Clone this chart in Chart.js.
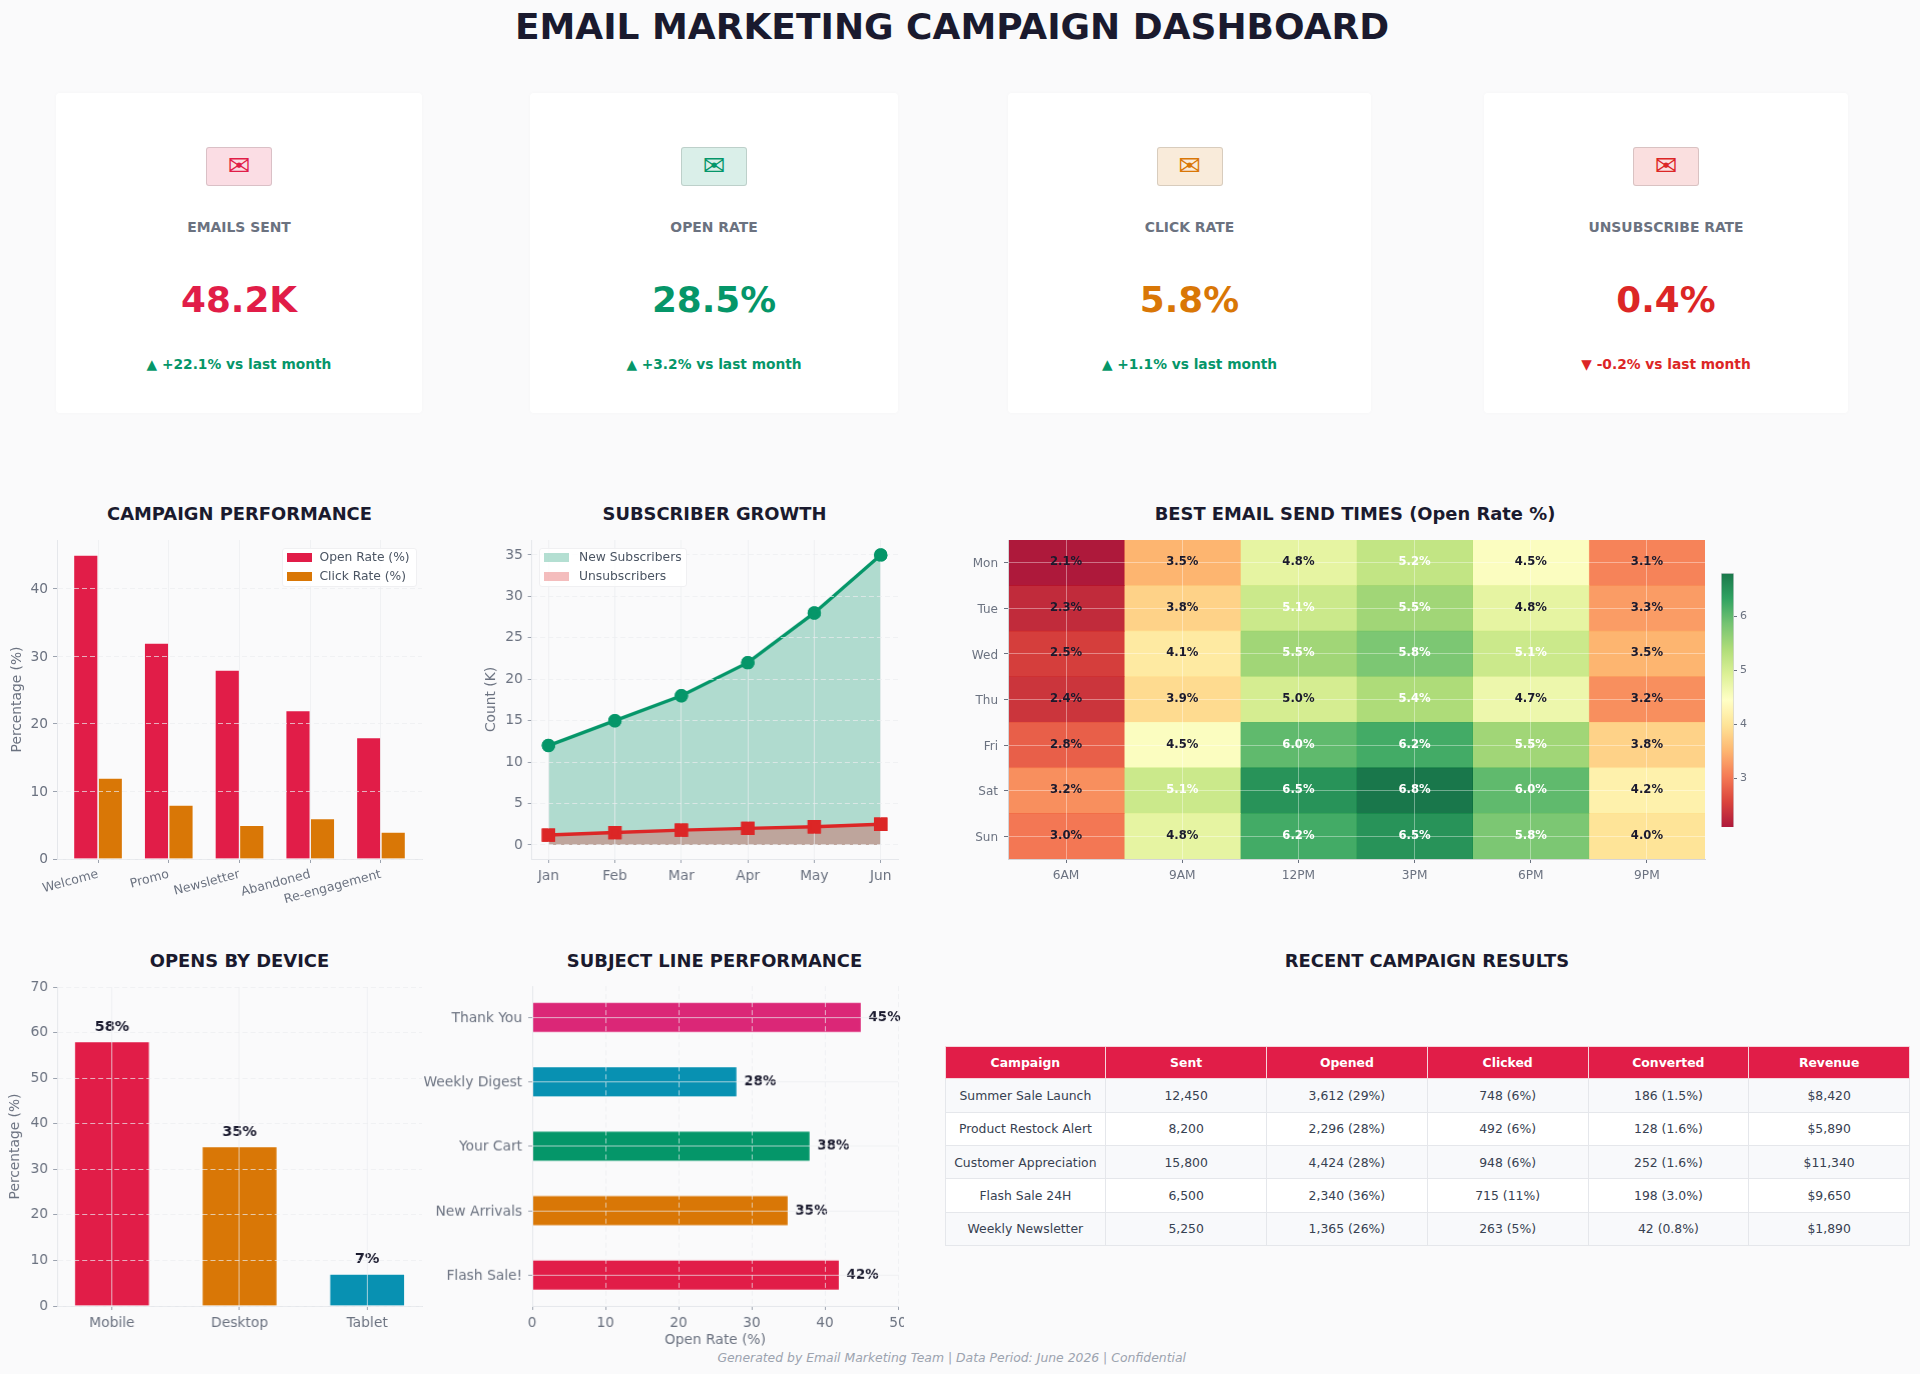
<!DOCTYPE html>
<html>
<head>
<meta charset="utf-8">
<title>Email Marketing Campaign Dashboard</title>
<script src="https://cdn.jsdelivr.net/npm/chart.js@4/dist/chart.umd.min.js"></script>
<style>
  html, body { margin: 0; padding: 0; background: #fafafb; }
  body { position: relative; width: 1920px; height: 1374px; overflow: hidden; font-family: "DejaVu Sans", sans-serif; }
  canvas { position: absolute; }
  .txt { position: absolute; transform: translate(-50%, -50%); white-space: nowrap; }
  .main-title { font-size: 36px; font-weight: bold; color: #1a1a2e; }
  .section-title { font-size: 17.9px; font-weight: bold; color: #1a1a2e; }
  .card { position: absolute; top: 93px; height: 320px; background: #fff; border-radius: 4px; box-shadow: 0 0 5px rgba(0,0,0,.025); }
  .icon { position: absolute; left: 206px; top: 147px; width: 66px; height: 39px; box-sizing: border-box; border: 1px solid rgba(0,0,0,.13); border-radius: 3px; text-align: center; font-size: 27px; line-height: 35px; }
  .card-label { font-size: 13.9px; font-weight: bold; color: #6b7280; }
  .card-value { font-size: 35.8px; font-weight: bold; }
  .card-change { font-size: 13.75px; font-weight: bold; }
  .legend { position: absolute; box-sizing: border-box; height: 39px; background: rgba(255,255,255,.85); border: 1px solid #f0f0f2; border-radius: 3px; font-size: 12.3px; color: #4b5563; }
  .legend i { position: absolute; width: 25px; height: 9px; }
  .legend span { position: absolute; line-height: 14px; white-space: nowrap; }
  table { position: absolute; left: 944.5px; top: 1046px; width: 965.5px; height: 200px; border-collapse: collapse; table-layout: fixed; font-size: 12.4px; color: #374151; }
  th { background: #e11d48; color: #fff; font-weight: bold; border: 1px solid #f5d5dc; height: 31px; padding: 0; }
  td { border: 1px solid #e5e7eb; text-align: center; padding: 0; height: 32px; }
  tr.alt td { background: #f8f9fb; }
  tr.plain td { background: #fff; }
  .footer { font-size: 12.4px; font-style: italic; color: #9ca3af; }
</style>
</head>
<body>
<script>
// palette
const crimson = "#E11D48";
const orange = "#D97706";
const green = "#059669";
const teal = "#0891B2";
const pink = "#DB2777";
const red = "#DC2626";
const ink = "#1A1A2E";
const gray = "#6B7280";

// kpi cards
const cardLabels = ["EMAILS SENT", "OPEN RATE", "CLICK RATE", "UNSUBSCRIBE RATE"];
const cardValues = ["48.2K", "28.5%", "5.8%", "0.4%"];
const cardChanges = ["▲ +22.1% vs last month", "▲ +3.2% vs last month", "▲ +1.1% vs last month", "▼ -0.2% vs last month"];

// campaign performance
const campaignNames = ["Welcome", "Promo", "Newsletter", "Abandoned", "Re-engagement"];
const openRates = [45, 32, 28, 22, 18];
const clickRates = [12, 8, 5, 6, 4];

// subscriber growth
const months = ["Jan", "Feb", "Mar", "Apr", "May", "Jun"];
const newSubscribers = [12, 15, 18, 22, 28, 35];
const unsubscribers = [1.2, 1.5, 1.8, 2.0, 2.2, 2.5];

// send times heatmap, one row per day
const days = ["Mon", "Tue", "Wed", "Thu", "Fri", "Sat", "Sun"];
const hours = ["6AM", "9AM", "12PM", "3PM", "6PM", "9PM"];
const sendRates = [
  [2.1, 3.5, 4.8, 5.2, 4.5, 3.1],
  [2.3, 3.8, 5.1, 5.5, 4.8, 3.3],
  [2.5, 4.1, 5.5, 5.8, 5.1, 3.5],
  [2.4, 3.9, 5.0, 5.4, 4.7, 3.2],
  [2.8, 4.5, 6.0, 6.2, 5.5, 3.8],
  [3.2, 5.1, 6.5, 6.8, 6.0, 4.2],
  [3.0, 4.8, 6.2, 6.5, 5.8, 4.0],
];
const colorbarTicks = [3, 4, 5, 6];
const rateMin = 2.1;
const rateMax = 6.8;

// devices
const devices = ["Mobile", "Desktop", "Tablet"];
const deviceShares = [58, 35, 7];

// subject lines, bottom to top
const subjects = ["Flash Sale!", "New Arrivals", "Your Cart", "Weekly Digest", "Thank You"];
const subjectRates = [42, 35, 38, 28, 45];

// results table
const tableHead = ["Campaign", "Sent", "Opened", "Clicked", "Converted", "Revenue"];
const tableRows = [
  ["Summer Sale Launch", "12,450", "3,612 (29%)", "748 (6%)", "186 (1.5%)", "$8,420"],
  ["Product Restock Alert", "8,200", "2,296 (28%)", "492 (6%)", "128 (1.6%)", "$5,890"],
  ["Customer Appreciation", "15,800", "4,424 (28%)", "948 (6%)", "252 (1.6%)", "$11,340"],
  ["Flash Sale 24H", "6,500", "2,340 (36%)", "715 (11%)", "198 (3.0%)", "$9,650"],
  ["Weekly Newsletter", "5,250", "1,365 (26%)", "263 (5%)", "42 (0.8%)", "$1,890"],
];

Chart.defaults.font.family = '"DejaVu Sans", sans-serif';
Chart.defaults.animation = false;
Chart.defaults.devicePixelRatio = 1;
Chart.defaults.plugins.legend.display = false;
Chart.defaults.plugins.tooltip.enabled = false;

const gridLight = "rgba(235,236,240,.7)";
const gridOnCells = "rgba(255,255,255,.38)";
const tickFont = { size: 13.8 };
const titleFont = { size: 13.8 };

function addText(cls, text, x, y, color) {
  const el = document.createElement("div");
  el.className = "txt " + cls;
  el.textContent = text;
  el.style.left = x + "px";
  el.style.top = y + "px";
  if (color) el.style.color = color;
  document.body.appendChild(el);
  return el;
}

// plot = the inner chart area in page pixels, pad = room around it for the axes
function addCanvas(plot, pad) {
  const c = document.createElement("canvas");
  const w = plot.right - plot.left + pad.left + pad.right;
  const h = plot.bottom - plot.top + pad.top + pad.bottom;
  c.width = w;
  c.height = h;
  c.style.left = plot.left - pad.left + "px";
  c.style.top = plot.top - pad.top + "px";
  c.style.width = w + "px";
  c.style.height = h + "px";
  document.body.appendChild(c);
  return c;
}

function layoutOf(pad) {
  return { autoPadding: false, padding: { top: pad.top, right: pad.right, left: 0, bottom: 0 } };
}

// fixed axis size and no label margins, so the chart area lands where the plot says
function axisBase(size, extra) {
  return Object.assign({
    offset: false,
    afterFit: function (axis) {
      if (axis.isHorizontal()) axis.height = size;
      else axis.width = size;
      axis.paddingTop = axis.paddingBottom = axis.paddingLeft = axis.paddingRight = 0;
    },
    grid: { z: 1, offset: false, color: gridLight, tickColor: "#9ca3af", tickLength: 4 },
    border: { z: 1, color: "#e5e7eb" },
  }, extra);
}

function fixedTicks(values) {
  return function (axis) {
    axis.ticks = values.map(function (v) { return { value: v }; });
  };
}

function addLegend(left, width, items) {
  const box = document.createElement("div");
  box.className = "legend";
  box.style.left = left + "px";
  box.style.top = "548px";
  box.style.width = width + "px";
  items.forEach(function (item, i) {
    const sw = document.createElement("i");
    sw.style.left = "4px";
    sw.style.top = 4 + i * 19 + "px";
    sw.style.background = item.color;
    const label = document.createElement("span");
    label.style.left = item.textLeft + "px";
    label.style.top = 1 + i * 19 + "px";
    label.textContent = item.text;
    box.appendChild(sw);
    box.appendChild(label);
  });
  document.body.appendChild(box);
}

// matplotlib RdYlGn
const rdYlGn = ["#a50026", "#d73027", "#f46d43", "#fdae61", "#fee08b", "#ffffbf", "#d9ef8b", "#a6d96a", "#66bd63", "#1a9850", "#006837"];

function heatColor(v) {
  const t = Math.min(Math.max((v - rateMin) / (rateMax - rateMin), 0), 1) * (rdYlGn.length - 1);
  const i = Math.min(Math.floor(t), rdYlGn.length - 2);
  const f = t - i;
  const a = parseInt(rdYlGn[i].slice(1), 16);
  const b = parseInt(rdYlGn[i + 1].slice(1), 16);
  const mix = function (s) {
    return Math.round(((a >> s) & 255) * (1 - f) + ((b >> s) & 255) * f);
  };
  return "rgba(" + mix(16) + "," + mix(8) + "," + mix(0) + ",.9)";
}

// value labels written next to the bars
function barLabels(fontSize, place) {
  return {
    id: "barLabels",
    afterDatasetsDraw: function (chart) {
      const ctx = chart.ctx;
      const meta = chart.getDatasetMeta(0);
      ctx.save();
      ctx.font = "bold " + fontSize + 'px "DejaVu Sans"';
      ctx.fillStyle = ink;
      meta.data.forEach(function (bar, i) {
        place(ctx, bar, chart.data.datasets[0].values[i] + "%");
      });
      ctx.restore();
    },
  };
}

/* ---------- header and cards ---------- */
addText("main-title", "EMAIL MARKETING CAMPAIGN DASHBOARD", 952, 25.5);

const cardBoxes = [[56, 366], [530, 368], [1008, 363], [1484, 364]];
const cardColors = [crimson, green, orange, red];
const iconBacks = ["rgba(225,29,72,.15)", "rgba(5,150,105,.15)", "rgba(217,119,6,.15)", "rgba(220,38,38,.15)"];

cardLabels.forEach(function (label, i) {
  const box = cardBoxes[i];
  const center = box[0] + box[1] / 2;
  const card = document.createElement("div");
  card.className = "card";
  card.style.left = box[0] + "px";
  card.style.width = box[1] + "px";
  document.body.appendChild(card);

  const icon = document.createElement("div");
  icon.className = "icon";
  icon.textContent = "✉";
  icon.style.left = center - 33 + "px";
  icon.style.color = cardColors[i];
  icon.style.background = iconBacks[i];
  document.body.appendChild(icon);

  addText("card-label", label, center, 227);
  addText("card-value", cardValues[i], center, 298.5, cardColors[i]);
  addText("card-change", cardChanges[i], center, 364, i === 3 ? red : green);
});

/* ---------- section titles ---------- */
addText("section-title", "CAMPAIGN PERFORMANCE", 239.5, 512.5);
addText("section-title", "SUBSCRIBER GROWTH", 714.5, 512.5);
addText("section-title", "BEST EMAIL SEND TIMES (Open Rate %)", 1355, 512.5);
addText("section-title", "OPENS BY DEVICE", 239.5, 959.5);
addText("section-title", "SUBJECT LINE PERFORMANCE", 714.5, 959.5);
addText("section-title", "RECENT CAMPAIGN RESULTS", 1427, 959.5);

/* ---------- campaign performance ---------- */
const perfPlot = { left: 57, right: 422, top: 540, bottom: 859 };
const perfPad = { left: 48, right: 6, top: 4, bottom: 58 };
new Chart(addCanvas(perfPlot, perfPad), {
  type: "bar",
  data: {
    datasets: [
      { label: "Open Rate (%)", data: openRates.map((v, i) => ({ x: i, y: v })), backgroundColor: crimson, borderColor: "rgba(255,255,255,.35)", borderWidth: 1, barThickness: 24.5 },
      { label: "Click Rate (%)", data: clickRates.map((v, i) => ({ x: i, y: v })), backgroundColor: orange, borderColor: "rgba(255,255,255,.35)", borderWidth: 1, barThickness: 24.5 },
    ],
  },
  options: {
    responsive: false,
    layout: layoutOf(perfPad),
    scales: {
      x: axisBase(perfPad.bottom, {
        type: "linear", min: -0.58, max: 4.58,
        afterBuildTicks: fixedTicks(campaignNames.map((n, i) => i)),
        ticks: { color: gray, font: { size: 12.5 }, autoSkip: false, minRotation: 15, maxRotation: 15, padding: 4, callback: (v) => campaignNames[v] },
      }),
      y: axisBase(perfPad.left, {
        min: 0, max: 47.25,
        afterBuildTicks: fixedTicks([0, 10, 20, 30, 40]),
        title: { display: true, text: "Percentage (%)", color: gray, font: titleFont, padding: 0 },
        border: { z: 1, color: "#e5e7eb", dash: [5, 3] },
        ticks: { color: gray, font: tickFont, padding: 5, labelOffset: 0.5 },
      }),
    },
  },
});
addLegend(281.5, 135, [
  { color: crimson, text: "Open Rate (%)", textLeft: 37 },
  { color: orange, text: "Click Rate (%)", textLeft: 37 },
]);

/* ---------- subscriber growth ---------- */
const growthPlot = { left: 531.7, right: 898, top: 540, bottom: 859 };
const growthPad = { left: 48.7, right: 6, top: 4, bottom: 36 };
new Chart(addCanvas(growthPlot, growthPad), {
  type: "line",
  data: {
    datasets: [
      { label: "New Subscribers", data: newSubscribers.map((v, i) => ({ x: i, y: v })), order: 2, borderColor: green, backgroundColor: "rgba(5,150,105,.3)", fill: "origin", borderWidth: 3.4, tension: 0, pointRadius: 5, pointBackgroundColor: green, pointBorderColor: green, clip: false },
      { label: "Unsubscribers", data: unsubscribers.map((v, i) => ({ x: i, y: v })), order: 1, borderColor: red, backgroundColor: "rgba(220,38,38,.3)", fill: "origin", borderWidth: 3.4, tension: 0, pointStyle: "rect", pointRadius: 7, pointBackgroundColor: red, pointBorderColor: red, clip: false },
    ],
  },
  options: {
    responsive: false,
    layout: layoutOf(growthPad),
    scales: {
      x: axisBase(growthPad.bottom, {
        type: "linear", min: -0.25, max: 5.26,
        afterBuildTicks: fixedTicks(months.map((m, i) => i)),
        ticks: { color: gray, font: tickFont, padding: 5, autoSkip: false, maxRotation: 0, callback: (v) => months[v] },
      }),
      y: axisBase(growthPad.left, {
        min: -1.69, max: 36.8,
        afterBuildTicks: fixedTicks([0, 5, 10, 15, 20, 25, 30, 35]),
        title: { display: true, text: "Count (K)", color: gray, font: titleFont, padding: 0 },
        border: { z: 1, color: "#e5e7eb", dash: [5, 3] },
        ticks: { color: gray, font: tickFont, padding: 5 },
      }),
    },
  },
  plugins: [{
    // the grid sits over the fills, the markers stay solid on top of it
    id: "pointsOnTop",
    afterDraw: function (chart) {
      chart.getSortedVisibleDatasetMetas().forEach(function (meta) {
        meta.data.forEach(function (point) { point.draw(chart.ctx); });
      });
    },
  }],
});
addLegend(539, 148, [
  { color: "rgba(5,150,105,.3)", text: "New Subscribers", textLeft: 39 },
  { color: "rgba(220,38,38,.3)", text: "Unsubscribers", textLeft: 39 },
]);

/* ---------- heatmap ---------- */
const heatPlot = { left: 1007.5, right: 1705, top: 540, bottom: 859 };
const heatPad = { left: 44, right: 4, top: 2, bottom: 34 };
new Chart(addCanvas(heatPlot, heatPad), {
  type: "bar",
  data: {
    labels: days,
    datasets: hours.map(function (h, col) {
      return {
        label: h,
        data: days.map((d) => ({ y: d, x: [col, col + 1] })),
        backgroundColor: days.map((d, row) => heatColor(sendRates[row][col])),
        barPercentage: 1,
        categoryPercentage: 1,
        grouped: false,
      };
    }),
  },
  options: {
    indexAxis: "y",
    responsive: false,
    layout: layoutOf(heatPad),
    scales: {
      x: axisBase(heatPad.bottom, {
        type: "linear", min: 0, max: 6,
        afterBuildTicks: fixedTicks(hours.map((h, i) => i + 0.5)),
        grid: { z: 1, offset: false, color: gridOnCells, tickColor: "#6b7280", tickLength: 4 },
        border: { z: 1, color: "#d4d4d8" },
        ticks: { color: gray, font: { size: 12.2 }, padding: 6, autoSkip: false, maxRotation: 0, callback: (v, i) => hours[i] },
      }),
      y: axisBase(heatPad.left, {
        type: "category",
        offset: true,
        grid: { z: 1, offset: false, color: gridOnCells, tickColor: "#6b7280", tickLength: 4 },
        border: { z: 1, color: "#d4d4d8" },
        ticks: { color: gray, font: { size: 12 }, padding: 6, labelOffset: 1.5 },
      }),
    },
  },
  plugins: [{
    id: "cellLabels",
    afterDraw: function (chart) {
      const ctx = chart.ctx;
      const xs = chart.scales.x;
      const ys = chart.scales.y;
      ctx.save();
      ctx.font = 'bold 11.6px "DejaVu Sans"';
      ctx.textAlign = "center";
      ctx.textBaseline = "middle";
      days.forEach(function (d, row) {
        hours.forEach(function (h, col) {
          const v = sendRates[row][col];
          ctx.fillStyle = v > 5 ? "#fff" : ink;
          ctx.fillText(v.toFixed(1) + "%", xs.getPixelForValue(col + 0.5), ys.getPixelForValue(row) - 0.5);
        });
      });
      ctx.restore();
    },
  }],
});

/* ---------- colorbar ---------- */
const barPlot = { left: 1721, right: 1734, top: 572.7, bottom: 827.3 };
const barPad = { left: 2, right: 30, top: 4, bottom: 4 };
new Chart(addCanvas(barPlot, barPad), {
  type: "bar",
  data: {
    labels: ["rate"],
    datasets: [{
      data: [[rateMin, rateMax]],
      barPercentage: 1,
      categoryPercentage: 1,
      backgroundColor: function (ctx) {
        const area = ctx.chart.chartArea;
        if (!area) return crimson;
        const g = ctx.chart.ctx.createLinearGradient(0, area.bottom, 0, area.top);
        for (let i = 0; i <= 40; i++) {
          g.addColorStop(i / 40, heatColor(rateMin + (rateMax - rateMin) * i / 40));
        }
        return g;
      },
      borderColor: "#d4d4d8",
      borderWidth: 1,
    }],
  },
  options: {
    responsive: false,
    layout: { padding: { top: barPad.top, left: barPad.left, right: 0, bottom: barPad.bottom } },
    scales: {
      x: { display: false },
      y: axisBase(barPad.right, {
        position: "right",
        min: rateMin, max: rateMax,
        afterBuildTicks: fixedTicks(colorbarTicks),
        grid: { drawOnChartArea: false, tickColor: "#6b7280", tickLength: 3 },
        border: { display: false },
        ticks: { color: gray, font: { size: 11 }, padding: 3 },
      }),
    },
  },
});

/* ---------- opens by device ---------- */
const devicePlot = { left: 57.3, right: 422, top: 986.6, bottom: 1306.3 };
const devicePad = { left: 50, right: 6, top: 8, bottom: 36 };
new Chart(addCanvas(devicePlot, devicePad), {
  type: "bar",
  data: {
    datasets: [{
      data: deviceShares.map((v, i) => ({ x: i, y: v })),
      values: deviceShares,
      backgroundColor: [crimson, orange, teal],
      borderColor: "rgba(255,255,255,.35)",
      borderWidth: 1,
      barThickness: 75,
    }],
  },
  options: {
    responsive: false,
    layout: layoutOf(devicePad),
    scales: {
      x: axisBase(devicePad.bottom, {
        type: "linear", min: -0.43, max: 2.43,
        afterBuildTicks: fixedTicks(devices.map((d, i) => i)),
        ticks: { color: gray, font: tickFont, padding: 5, autoSkip: false, maxRotation: 0, callback: (v) => devices[v] },
      }),
      y: axisBase(devicePad.left, {
        min: 0, max: 70,
        afterBuildTicks: fixedTicks([0, 10, 20, 30, 40, 50, 60, 70]),
        title: { display: true, text: "Percentage (%)", color: gray, font: titleFont, padding: 0 },
        border: { z: 1, color: "#e5e7eb", dash: [5, 3] },
        ticks: { color: gray, font: tickFont, padding: 5 },
      }),
    },
  },
  plugins: [barLabels(14.4, function (ctx, bar, text) {
    ctx.textAlign = "center";
    ctx.textBaseline = "middle";
    ctx.fillText(text, bar.x, bar.y - 14.5);
  })],
});

/* ---------- subject lines ---------- */
const subjectPlot = { left: 532, right: 897.7, top: 986, bottom: 1305.7 };
const subjectPad = { left: 112, right: 6, top: 8, bottom: 43 };
new Chart(addCanvas(subjectPlot, subjectPad), {
  type: "bar",
  data: {
    datasets: [{
      data: subjectRates.map((v, i) => ({ x: v, y: i })),
      values: subjectRates,
      backgroundColor: [crimson, orange, green, teal, pink],
      borderColor: "rgba(255,255,255,.35)",
      borderWidth: 1,
      barThickness: 30.3,
    }],
  },
  options: {
    indexAxis: "y",
    responsive: false,
    layout: layoutOf(subjectPad),
    scales: {
      x: axisBase(subjectPad.bottom, {
        type: "linear", min: 0, max: 50,
        afterBuildTicks: fixedTicks([0, 10, 20, 30, 40, 50]),
        title: { display: true, text: "Open Rate (%)", color: gray, font: titleFont, padding: 0 },
        border: { z: 1, color: "#e5e7eb", dash: [5, 3] },
        ticks: { color: gray, font: tickFont, padding: 5, maxRotation: 0 },
      }),
      y: axisBase(subjectPad.left, {
        type: "linear", min: -0.477, max: 4.486,
        afterBuildTicks: fixedTicks(subjects.map((s, i) => i)),
        ticks: { color: gray, font: tickFont, padding: 6, labelOffset: 1, autoSkip: false, callback: (v) => subjects[v] },
      }),
    },
  },
  plugins: [barLabels(13.4, function (ctx, bar, text) {
    ctx.textAlign = "left";
    ctx.textBaseline = "middle";
    ctx.fillText(text, bar.x + 7, bar.y);
  })],
});

/* ---------- results table ---------- */
const table = document.createElement("table");
const headRow = table.insertRow();
tableHead.forEach(function (h) {
  const th = document.createElement("th");
  th.textContent = h;
  headRow.appendChild(th);
});
tableRows.forEach(function (row, r) {
  const tr = table.insertRow();
  tr.className = r % 2 === 0 ? "alt" : "plain";
  row.forEach(function (cell) {
    tr.insertCell().textContent = cell;
  });
});
document.body.appendChild(table);

addText("footer", "Generated by Email Marketing Team | Data Period: June 2026 | Confidential", 951.7, 1357);
</script>
</body>
</html>
